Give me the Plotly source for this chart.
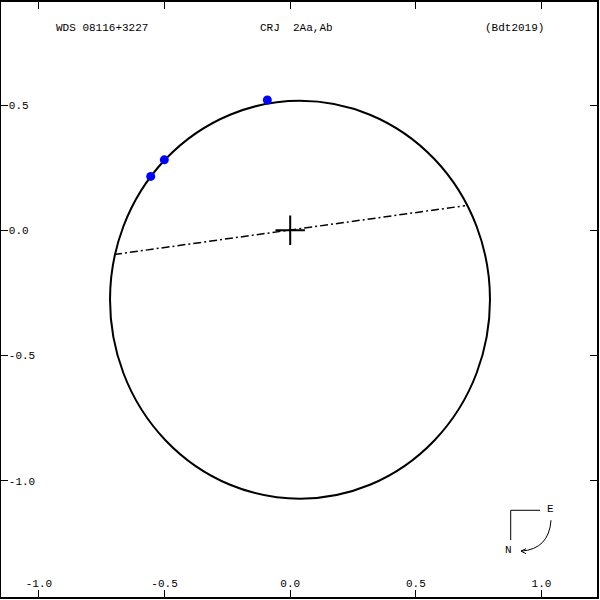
import plotly.graph_objects as go

# ---- data ----
# apparent orbit: extents of the (axis-aligned) ellipse
orbit_left = -0.717
orbit_right = 0.795
orbit_top = 0.517
orbit_bottom = -1.072

obs_x = [-0.091, -0.501, -0.555]
obs_y = [0.520, 0.281, 0.215]

node_x = [-0.701, 0.696]
node_y = [-0.097, 0.098]

primary_x = [0.0]
primary_y = [0.0]

x_ticks = [-1.0, -0.5, 0.0, 0.5, 1.0]
x_tick_labels = ["-1.0", "-0.5", "0.0", "0.5", "1.0"]
y_ticks = [0.5, 0.0, -0.5, -1.0]
y_tick_labels = ["0.5", "0.0", "-0.5", "-1.0"]

title_left = "WDS 08116+3227"
title_mid = "CRJ\u00a0\u00a02Aa,Ab"
title_right = "(Bdt2019)"

# ---- layout geometry ----
W, H = 600, 600
ML, MR, MT, MB = 1, 3, 0, 3
PW, PH = W - ML - MR, H - MT - MB

def px(x):
    return (x - ML) / PW

def py(y):
    return 1 - (y - MT) / PH

FONT = dict(family="Liberation Mono, DejaVu Sans Mono, monospace", size=11, color="black")

fig = go.Figure()

fig.add_shape(type="circle", xref="x", yref="y",
              x0=orbit_left, x1=orbit_right, y0=orbit_bottom, y1=orbit_top,
              line=dict(color="black", width=2), layer="below")

fig.add_trace(go.Scatter(x=node_x, y=node_y, mode="lines",
                         line=dict(color="black", width=1.5, dash="8px,3px,2px,3px"),
                         hoverinfo="skip"))
fig.add_trace(go.Scatter(x=primary_x, y=primary_y, mode="markers",
                         marker=dict(symbol="cross-thin", size=21,
                                     line=dict(color="black", width=2)),
                         hoverinfo="skip"))
fig.add_trace(go.Scatter(x=obs_x, y=obs_y, mode="markers",
                         marker=dict(symbol="circle", size=9, color="#0000ff",
                                     line=dict(width=0)),
                         hoverinfo="skip"))

axis_common = dict(showgrid=False, zeroline=False, showline=True, linecolor="black",
                   linewidth=2, mirror="ticks", ticks="inside", ticklen=7, tickwidth=1,
                   tickcolor="black", ticklabelposition="inside", tickfont=FONT)

fig.update_xaxes(range=[-1.1508, 1.2208], tickvals=x_ticks, ticktext=x_tick_labels,
                 **axis_common)
fig.update_yaxes(range=[-1.4644, 0.9113], tickvals=y_ticks, ticktext=y_tick_labels,
                 **axis_common)

ann = [
    dict(text=title_left, x=px(102), y=py(26)),
    dict(text=title_mid, x=px(296), y=py(26)),
    dict(text=title_right, x=px(514), y=py(26)),
    dict(text="E", x=px(550), y=py(509)),
    dict(text="N", x=px(508), y=py(550)),
]
for a in ann:
    fig.add_annotation(xref="paper", yref="paper", showarrow=False,
                       xanchor="center", yanchor="middle", font=FONT, **a)

def pt(x, y):
    return f"{px(x):.5f},{py(y):.5f}"

shapes = [
    dict(type="line", x0=px(510.7), y0=py(510), x1=px(540), y1=py(510)),
    dict(type="line", x0=px(510.7), y0=py(510), x1=px(510.7), y1=py(540)),
    dict(type="path", path=f"M {pt(551,520)} Q {pt(549,549)} {pt(521,551)}"),
    dict(type="path", path=f"M {pt(526,548.5)} L {pt(521,551)} L {pt(526,553.5)}"),
]
for s in shapes:
    fig.add_shape(xref="paper", yref="paper", line=dict(color="black", width=1), **s)

fig.update_layout(width=W, height=H, margin=dict(l=ML, r=MR, t=MT, b=MB, pad=0),
                  plot_bgcolor="white", paper_bgcolor="white", showlegend=False)

fig.write_html("out.html", config={"displayModeBar": False},
               post_script="document.body.style.margin='0';")
